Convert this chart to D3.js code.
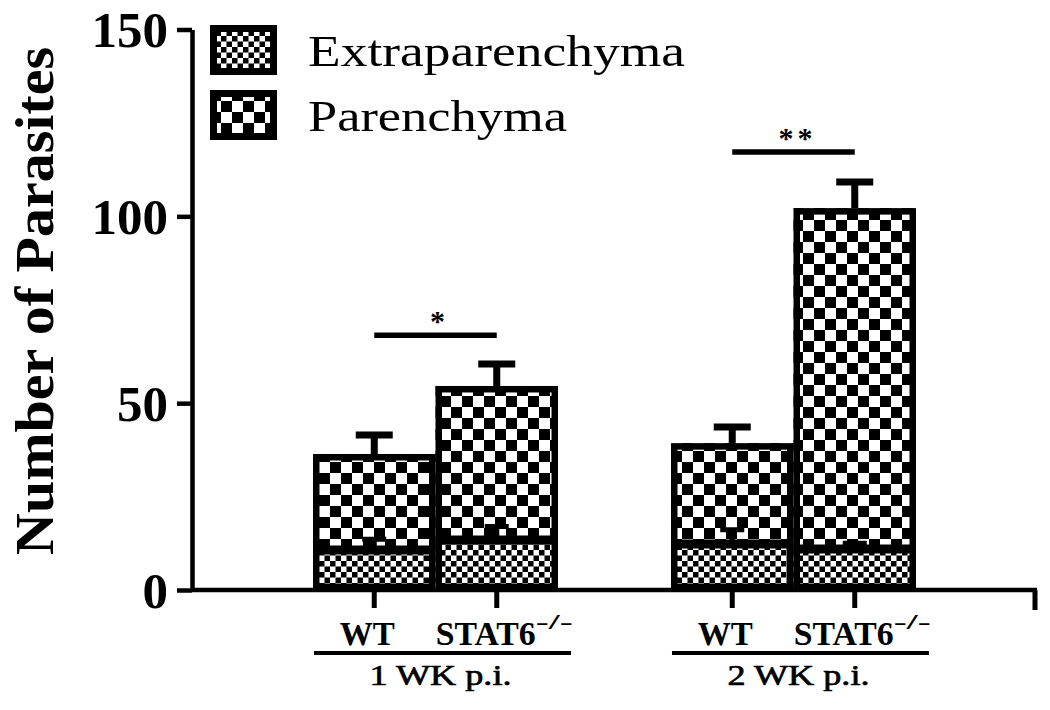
<!DOCTYPE html>
<html>
<head>
<meta charset="utf-8">
<script src="https://cdn.jsdelivr.net/npm/d3@7"></script>
<style>
  body { margin: 0; background: #fff; }
  svg { display: block; }
</style>
</head>
<body>
<script>
var width = 1050, height = 710;

// data
var groups = ["1 WK p.i.", "2 WK p.i."];
var strains = ["WT", "STAT6"];
var extraValues = [10.7, 13.4, 12.3, 11.0];     // Extraparenchyma
var extraErrors = [2.9, 3.6, 3.8, 1.5];
var totalValues = [36.4, 54.6, 39.3, 102.2];    // Extraparenchyma + Parenchyma
var totalErrors = [5.1, 5.9, 4.3, 7.0];
var yTicks = [0, 50, 100, 150];
var legendLabels = ["Extraparenchyma", "Parenchyma"];
var sigBars = [{group: "1 WK p.i.", y: 68.2, label: "*"},
               {group: "2 WK p.i.", y: 117.2, label: "**"}];

var svg = d3.select("body").append("svg")
  .attr("width", width)
  .attr("height", height);

var defs = svg.append("defs");
function checker(id, s) {
  var p = defs.append("pattern")
    .attr("id", id)
    .attr("patternUnits", "userSpaceOnUse")
    .attr("width", 2 * s).attr("height", 2 * s);
  p.append("rect").attr("width", 2 * s).attr("height", 2 * s).attr("fill", "#fff");
  p.append("rect").attr("width", s).attr("height", s).attr("fill", "#000");
  p.append("rect").attr("x", s).attr("y", s).attr("width", s).attr("height", s).attr("fill", "#000");
}
checker("pExtra", 5.5);
checker("pPar", 11);
var fills = ["url(#pExtra)", "url(#pPar)"];

var x0 = d3.scaleBand().domain(groups).range([192, 1037])
  .paddingInner(0.3156).paddingOuter(0.338);
var x1 = d3.scaleBand().domain(strains).range([0, x0.bandwidth()]);
var y = d3.scaleLinear().domain([0, 150]).range([590, 29.5]);

var bars = [];
groups.forEach(function(g, gi) {
  strains.forEach(function(s, si) {
    var i = gi * 2 + si;
    bars.push({group: g, strain: s,
      extra: extraValues[i], extraErr: extraErrors[i],
      total: totalValues[i], totalErr: totalErrors[i]});
  });
});
function bx(d) { return x0(d.group) + x1(d.strain); }
function cx(d) { return bx(d) + x1.bandwidth() / 2; }

var bw = 6.5;
var barG = svg.append("g");
// fills
barG.selectAll(".fe").data(bars).enter().append("rect")
  .attr("x", bx).attr("width", x1.bandwidth())
  .attr("y", function(d) { return y(d.extra); })
  .attr("height", function(d) { return y(0) - y(d.extra); })
  .attr("fill", fills[0]);
barG.selectAll(".fp").data(bars).enter().append("rect")
  .attr("x", bx).attr("width", x1.bandwidth())
  .attr("y", function(d) { return y(d.total); })
  .attr("height", function(d) { return y(d.extra) - y(d.total); })
  .attr("fill", fills[1]);
// segment boundary
barG.selectAll(".sb").data(bars).enter().append("line")
  .attr("x1", bx).attr("x2", function(d) { return bx(d) + x1.bandwidth(); })
  .attr("y1", function(d) { return y(d.extra); })
  .attr("y2", function(d) { return y(d.extra); })
  .attr("stroke", "#000").attr("stroke-width", 9);
// small error bars of the lower segment
barG.selectAll(".ee").data(bars).enter().append("path")
  .attr("d", function(d) {
    var c = cx(d), t = y(d.extra + d.extraErr);
    return "M" + c + "," + y(d.extra) + "V" + t + "M" + (c - 12) + "," + t + "H" + (c + 12);
  })
  .attr("stroke", "#000").attr("stroke-width", 5).attr("fill", "none");
// outlines
barG.selectAll(".ol").data(bars).enter().append("rect")
  .attr("x", function(d) { return bx(d) + bw / 2; })
  .attr("width", x1.bandwidth() - bw)
  .attr("y", function(d) { return y(d.total) + bw / 2; })
  .attr("height", function(d) { return y(0) - y(d.total) - bw; })
  .attr("fill", "none").attr("stroke", "#000").attr("stroke-width", bw);
// error bars of the total
barG.selectAll(".te").data(bars).enter().append("path")
  .attr("d", function(d) {
    var c = cx(d), t = y(d.total + d.totalErr);
    return "M" + c + "," + y(d.total) + "V" + t + "M" + (c - 18.5) + "," + t + "H" + (c + 18.5);
  })
  .attr("stroke", "#000").attr("stroke-width", 7).attr("fill", "none");

// y axis
var yAxis = svg.append("g")
  .attr("transform", "translate(192,0)")
  .call(d3.axisLeft(y).tickValues(yTicks).tickSize(15).tickSizeOuter(0).tickPadding(9));
yAxis.select(".domain").attr("stroke", "#000").attr("stroke-width", 4.5);
yAxis.selectAll(".tick line").attr("stroke", "#000").attr("stroke-width", 4.5);
yAxis.selectAll(".tick text")
  .attr("font-family", "'Liberation Serif', serif")
  .attr("font-weight", "bold")
  .attr("font-size", 51)
  .attr("fill", "#000")
  .attr("dy", "0.34em");

svg.append("text")
  .attr("transform", "translate(53,301) rotate(-90)")
  .attr("text-anchor", "middle")
  .attr("font-family", "'Liberation Serif', serif")
  .attr("font-weight", "bold")
  .attr("font-size", 54)
  .attr("textLength", 508)
  .attr("lengthAdjust", "spacingAndGlyphs")
  .text("Number of Parasites");

// x axis
svg.append("line")
  .attr("x1", 192).attr("x2", 1037)
  .attr("y1", y(0)).attr("y2", y(0))
  .attr("stroke", "#000").attr("stroke-width", 4.5);
svg.append("line")
  .attr("x1", 1035).attr("x2", 1035)
  .attr("y1", y(0)).attr("y2", y(0) + 20)
  .attr("stroke", "#000").attr("stroke-width", 5);
svg.selectAll(".xt").data(bars).enter().append("line")
  .attr("x1", cx).attr("x2", cx)
  .attr("y1", y(0)).attr("y2", y(0) + 18)
  .attr("stroke", "#000").attr("stroke-width", 5);

// strain labels
var lab = svg.selectAll(".xl").data(bars).enter().append("g");
lab.filter(function(d) { return d.strain === "WT"; }).append("text")
  .attr("x", function(d) { return cx(d) - 7; })
  .attr("y", 645)
  .attr("text-anchor", "middle")
  .attr("font-family", "'Liberation Serif', serif")
  .attr("font-weight", "bold")
  .attr("font-size", 34)
  .attr("textLength", 55)
  .attr("lengthAdjust", "spacingAndGlyphs")
  .text(function(d) { return d.strain; });
var st = lab.filter(function(d) { return d.strain === "STAT6"; });
st.append("text")
  .attr("x", function(d) { return cx(d) - 61; })
  .attr("y", 645)
  .attr("font-family", "'Liberation Serif', serif")
  .attr("font-weight", "bold")
  .attr("font-size", 34)
  .attr("textLength", 100)
  .attr("lengthAdjust", "spacingAndGlyphs")
  .text(function(d) { return d.strain; });
st.append("text")
  .attr("x", function(d) { return cx(d) + 39; })
  .attr("y", 629)
  .attr("font-family", "'Liberation Serif', serif")
  .attr("font-weight", "bold")
  .attr("font-size", 21)
  .attr("textLength", 37)
  .attr("lengthAdjust", "spacingAndGlyphs")
  .text("-/-");

// group labels
var gl = svg.selectAll(".gl").data(groups).enter().append("g");
gl.append("line")
  .attr("x1", function(d) { return x0(d) + 1; })
  .attr("x2", function(d) { return x0(d) + x0.bandwidth() + 13; })
  .attr("y1", 653).attr("y2", 653)
  .attr("stroke", "#000").attr("stroke-width", 4);
gl.append("text")
  .attr("x", function(d) { return x0(d) + x0.bandwidth() / 2 + 5; })
  .attr("y", 685)
  .attr("text-anchor", "middle")
  .attr("font-family", "'Liberation Serif', serif")
  .attr("font-size", 30)
  .attr("stroke", "#000").attr("stroke-width", 0.7)
  .attr("textLength", 142)
  .attr("lengthAdjust", "spacingAndGlyphs")
  .text(function(d) { return d; });

// significance
var sg = svg.selectAll(".sg").data(sigBars).enter().append("g");
sg.append("line")
  .attr("x1", function(d) { return x0(d.group) + x1.bandwidth() / 2; })
  .attr("x2", function(d) { return x0(d.group) + x1.bandwidth() * 1.5; })
  .attr("y1", function(d) { return y(d.y); })
  .attr("y2", function(d) { return y(d.y); })
  .attr("stroke", "#000").attr("stroke-width", 5.5);
sg.append("text")
  .attr("x", function(d) { return x0(d.group) + x1.bandwidth() + 4; })
  .attr("y", function(d) { return y(d.y) - 4; })
  .attr("text-anchor", "middle")
  .attr("font-family", "'Liberation Serif', serif")
  .attr("font-weight", "bold")
  .attr("font-size", 30)
  .attr("letter-spacing", 4)
  .text(function(d) { return d.label; });

// legend
var lg = svg.selectAll(".lg").data(legendLabels).enter().append("g")
  .attr("transform", function(d, i) { return "translate(210," + (25 + i * 65) + ")"; });
lg.append("rect")
  .attr("x", 3.5).attr("y", 3.5).attr("width", 60).attr("height", 43)
  .attr("fill", function(d, i) { return fills[i]; })
  .attr("stroke", "#000").attr("stroke-width", 7);
lg.append("text")
  .attr("x", 98).attr("y", 41)
  .attr("font-family", "'Liberation Serif', serif")
  .attr("font-size", 45)
  .attr("textLength", function(d, i) { return i === 0 ? 377 : 259; })
  .attr("lengthAdjust", "spacingAndGlyphs")
  .text(function(d) { return d; });
</script>
</body>
</html>
